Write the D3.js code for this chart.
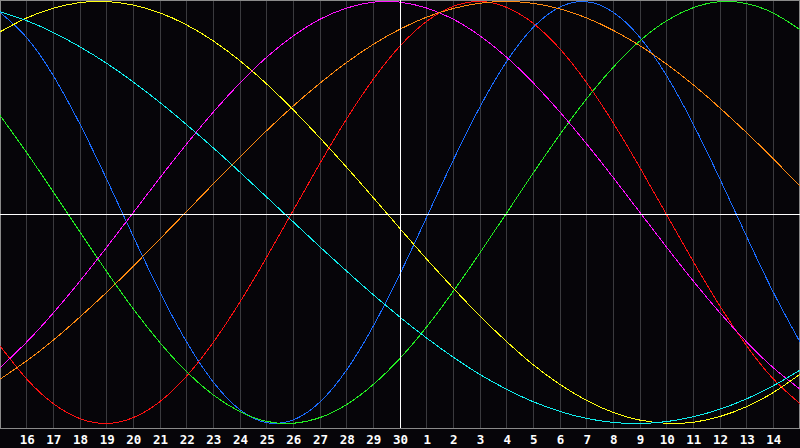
<!DOCTYPE html>
<html>
<head>
<meta charset="utf-8">
<script src="https://cdn.jsdelivr.net/npm/d3@7/dist/d3.min.js"></script>
<style>
html,body{margin:0;padding:0;background:#060509;}
svg{display:block;}
</style>
</head>
<body>
<svg id="chart" width="800" height="448"></svg>
<script>
// Day labels at grid lines 0..30 (x = day index)
const dayLabels = ["15","16","17","18","19","20","21","22","23","24","25","26","27","28","29","30","1","2","3","4","5","6","7","8","9","10","11","12","13","14","15"];
const todayIndex = 15;

// Biorhythm values in percent, one per day index 0..30
const physical     = [94.9,82.9,64.8,41.8,15.8,-11.4,-37.8,-61.4,-80.4,-93.5,-99.6,-98.3,-89.8,-74.6,-53.8,-29.1,-2.2,24.9,50.1,71.6,87.8,97.4,99.9,94.9,82.9,64.8,41.8,15.8,-11.4,-37.8,-61.4];
const emotional    = [-63.2,-78.9,-90.6,-97.7,-100.0,-97.2,-89.6,-77.5,-61.5,-42.4,-21.2,1.1,23.3,44.4,63.2,78.9,90.6,97.7,100.0,97.2,89.6,77.5,61.5,42.4,21.2,-1.1,-23.3,-44.4,-63.2,-78.9,-90.6];
const intellectual = [46.0,28.4,9.7,-9.3,-28.0,-45.7,-61.7,-75.5,-86.5,-94.4,-99.0,-99.9,-97.2,-91.0,-81.5,-69.1,-54.2,-37.3,-19.1,-0.2,18.8,37.0,53.9,68.9,81.4,90.9,97.1,99.9,99.0,94.5,86.7];
const intuitive    = [-73.6,-61.4,-47.6,-32.5,-16.5,0,16.5,32.5,47.6,61.4,73.6,83.7,91.6,96.9,99.7,99.7,96.9,91.6,83.7,73.6,61.4,47.6,32.5,16.5,0,-16.5,-32.5,-47.6,-61.4,-73.6,-83.7];
const aesthetic    = [85.6,92.2,96.8,99.5,100.0,98.3,94.6,88.9,81.3,71.9,60.9,48.6,35.3,21.4,7.0,-7.6,-22.1,-35.9,-49.1,-61.2,-72.2,-81.5,-89.1,-94.8,-98.4,-99.9,-99.4,-96.7,-92.0,-85.3,-76.7];
const awareness    = [-79.0,-70.3,-60.5,-49.5,-37.8,-25.4,-12.5,0.5,13.6,26.4,38.8,50.5,61.3,71.1,79.7,86.9,92.6,96.7,99.2,100.0,99.1,96.5,92.2,86.3,79.0,70.3,60.5,49.5,37.8,25.4,12.5];
const spiritual    = [95.2,90.9,85.3,78.5,70.7,61.8,52.1,41.6,30.6,19.1,7.3,-4.5,-16.3,-27.8,-39.0,-49.6,-59.5,-68.6,-76.8,-83.8,-89.7,-94.3,-97.6,-99.5,-100.0,-99.1,-96.8,-93.2,-88.3,-82.1,-74.7];

const seriesNames  = ["physical","emotional","intellectual","intuitive","aesthetic","awareness","spiritual"];
const seriesValues = [physical, emotional, intellectual, intuitive, aesthetic, awareness, spiritual];
const seriesColors = ["#1a6cff","#ff1010","#22ee22","#ff10ff","#ffff10","#ff8a10","#10f0f0"];

const svg = d3.select("#chart");
const W = 800, plotH = 428;

svg.append("rect").attr("x",0).attr("y",0).attr("width",800).attr("height",448).attr("fill","#060509");

const x = d3.scaleLinear().domain([0, dayLabels.length - 1]).range([0, W]);
const y = d3.scaleLinear().domain([-100, 100]).range([423.5, 1.5]);

// vertical grid lines
const gridIdx = d3.range(1, dayLabels.length - 1);
svg.append("g").selectAll("line").data(gridIdx.filter(i => i !== todayIndex)).join("line")
  .attr("x1", i => Math.floor(x(i)) + 0.5).attr("x2", i => Math.floor(x(i)) + 0.5)
  .attr("y1", 0).attr("y2", plotH)
  .attr("stroke", "#3a3a3e").attr("stroke-width", 1).attr("shape-rendering","crispEdges");

// frame
svg.append("rect").attr("x",0.5).attr("y",0.5).attr("width",W-1).attr("height",plotH-0.5)
  .attr("fill","none").attr("stroke","#8a8a8a").attr("stroke-width",1).attr("shape-rendering","crispEdges");
svg.append("line").attr("x1",0).attr("x2",W).attr("y1",428.5).attr("y2",428.5)
  .attr("stroke","#8a8a8a").attr("shape-rendering","crispEdges");

// curves
const line = d3.line().x((d,i) => x(i)).y(d => y(d)).curve(d3.curveNatural);
svg.append("g").selectAll("path").data(seriesValues).join("path")
  .attr("d", d => line(d))
  .attr("fill","none")
  .attr("stroke", (d,i) => seriesColors[i])
  .attr("stroke-width", 1)
  .attr("shape-rendering","crispEdges")
  .attr("class", (d,i) => seriesNames[i]);

// center lines (today + zero)
svg.append("line").attr("x1", x(todayIndex) + 0.5).attr("x2", x(todayIndex) + 0.5).attr("y1", 0).attr("y2", plotH)
  .attr("stroke","#ffffff").attr("stroke-width",1).attr("shape-rendering","crispEdges");
svg.append("line").attr("x1", 0).attr("x2", W).attr("y1", 214.5).attr("y2", 214.5)
  .attr("stroke","#ffffff").attr("stroke-width",1).attr("shape-rendering","crispEdges");

// axis labels
const axis = d3.axisBottom(x).tickValues(gridIdx).tickFormat(i => dayLabels[i]).tickSize(0).tickPadding(0);
const gAxis = svg.append("g").attr("transform","translate(0,435)").call(axis);
gAxis.select(".domain").remove();
gAxis.selectAll("text")
  .attr("fill","#ffffff")
  .attr("dy","0.71em")
  .style("font-family","'DejaVu Sans Mono', monospace")
  .style("font-weight","bold")
  .style("font-size","12.5px");
</script>
</body>
</html>
